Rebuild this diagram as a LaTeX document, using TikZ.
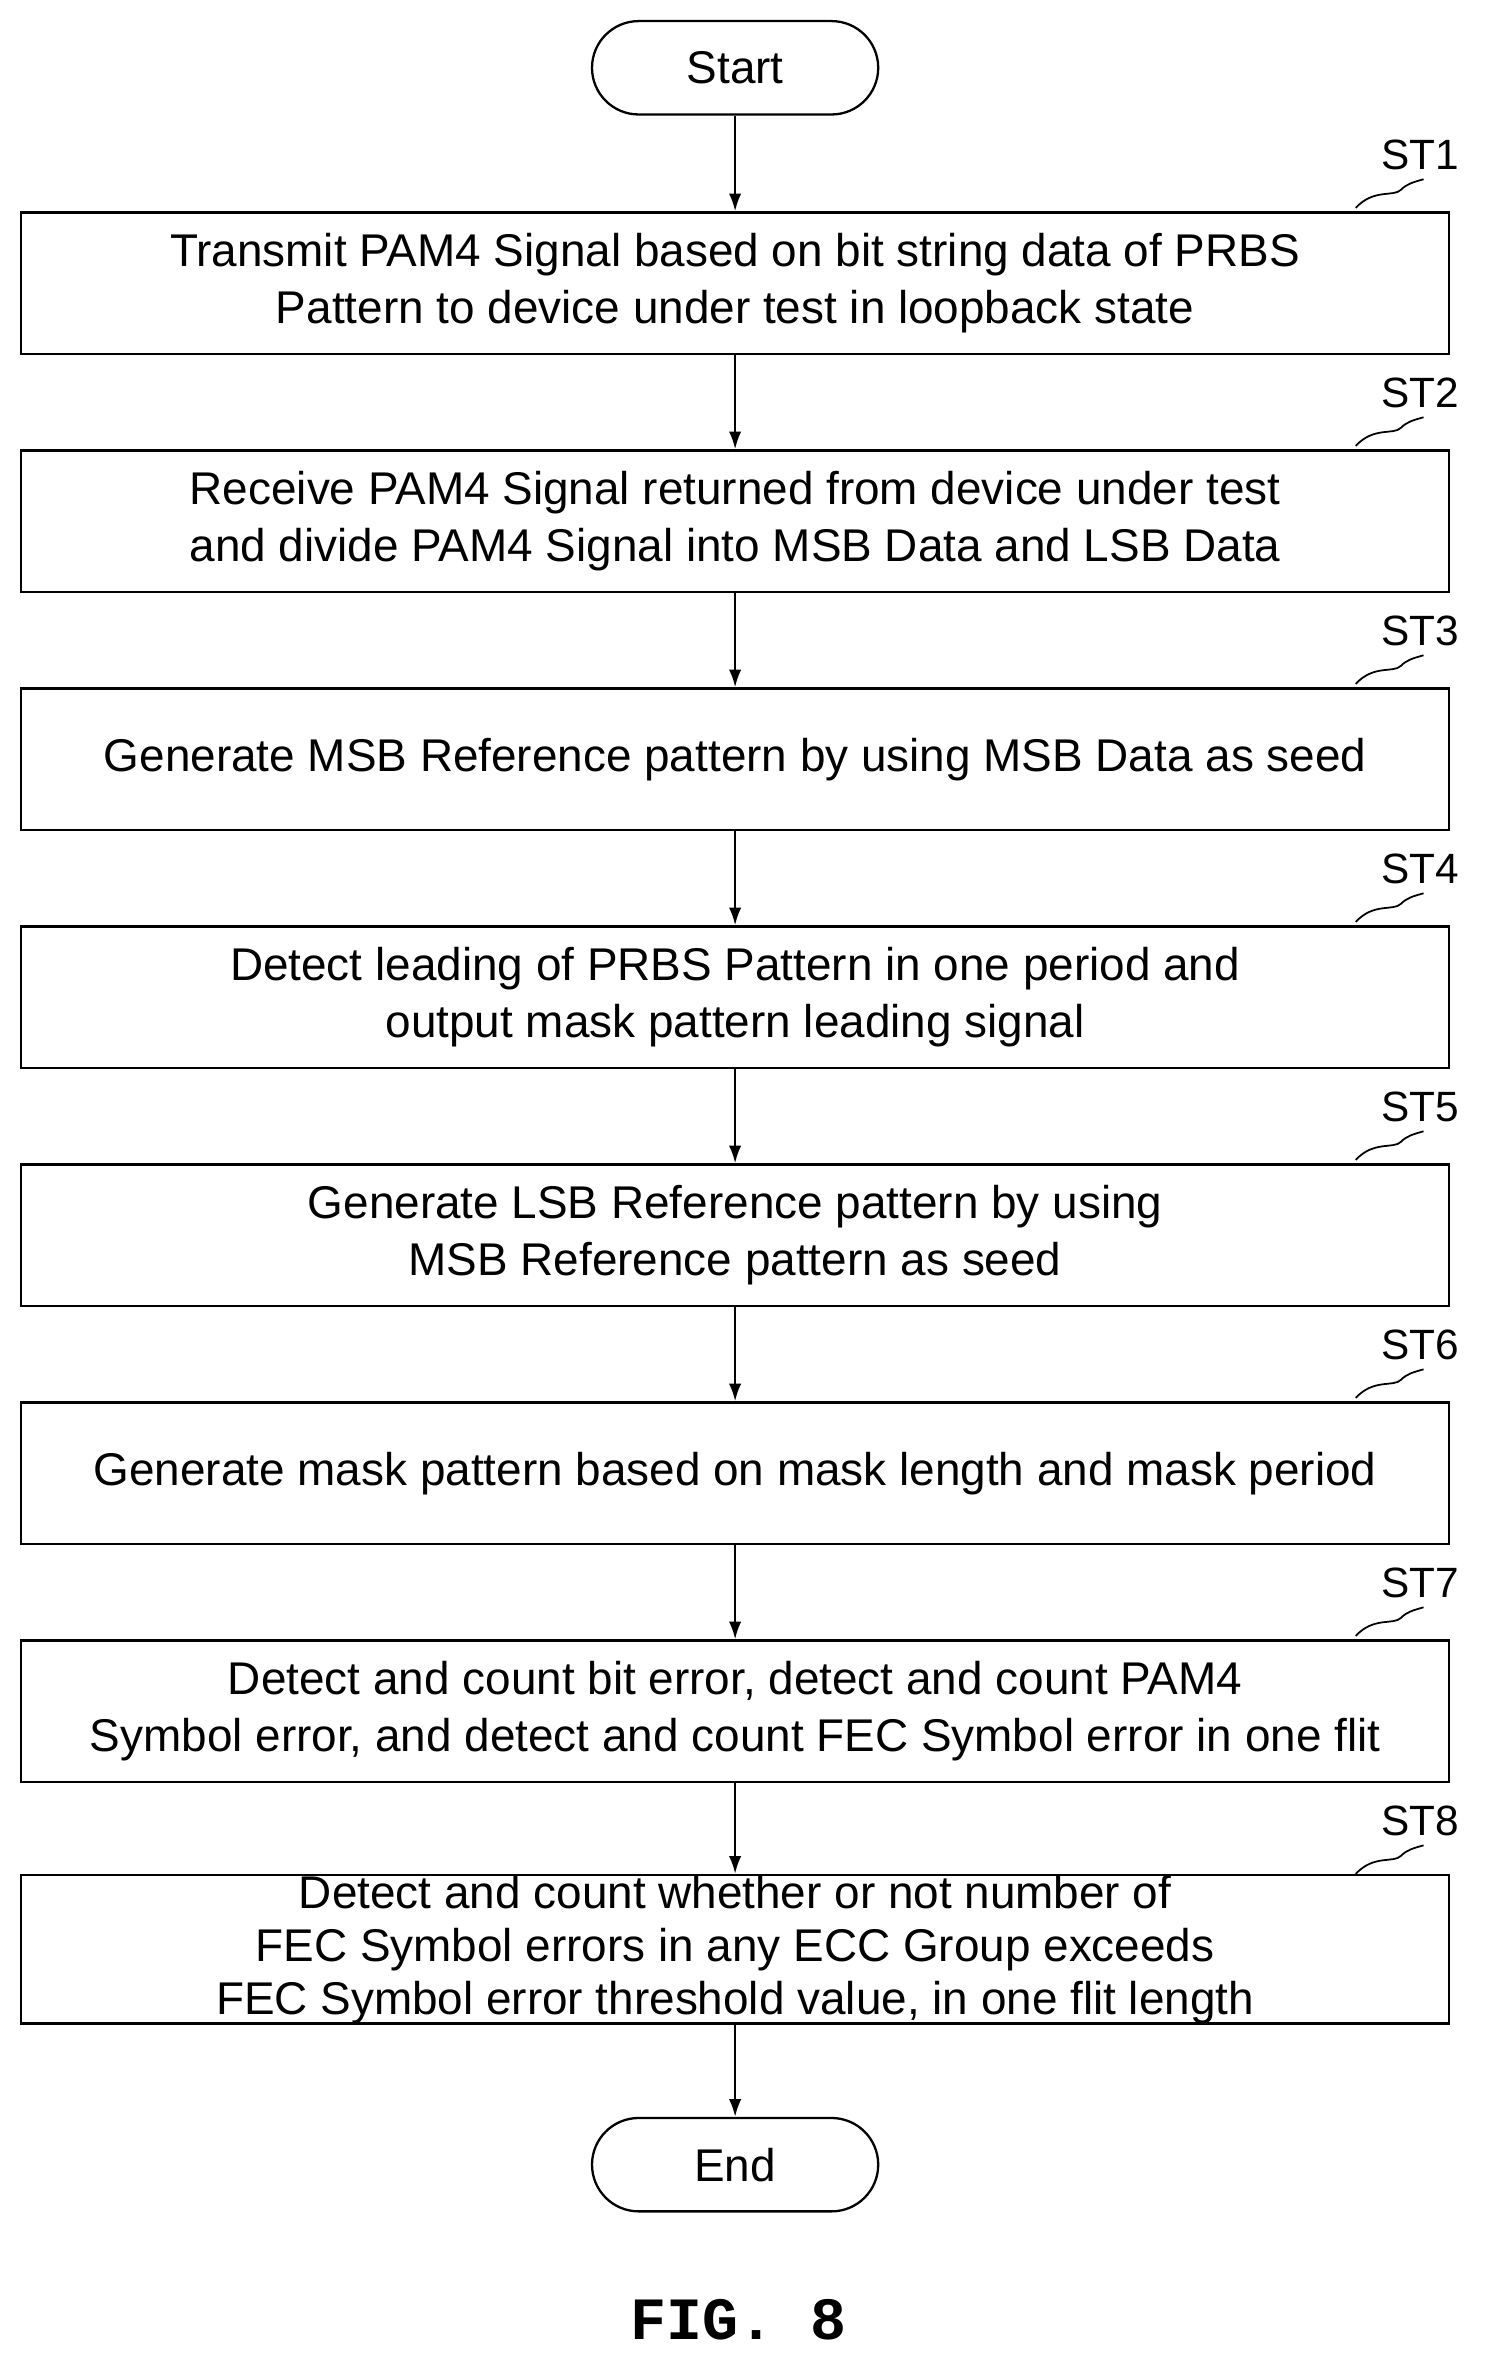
\documentclass[tikz,border=0pt]{standalone}
\usepackage{fontspec}
\setmainfont{Liberation Sans}
\newfontfamily\figfont{Liberation Mono}
\begin{document}
\begin{tikzpicture}[x=0.03cm,y=-0.03cm,
  box/.style={draw,line width=1.3pt,minimum width=948*0.03cm,minimum height=94*0.03cm,align=center,font=\fontsize{26}{32}\selectfont,inner sep=0pt},
  term/.style={draw,line width=1.3pt,rounded corners=31*0.03cm,minimum width=190*0.03cm,minimum height=62*0.03cm,font=\fontsize{26}{32}\selectfont},
  arr/.style={line width=1.3pt,-{Latex[length=10pt,width=7pt]}},
  lab/.style={font=\fontsize{24}{28}\selectfont}]
\useasboundingbox (0,0) rectangle (987,1570);
\usetikzlibrary{arrows.meta}
\node[term] (s) at (488,45) {Start};
\node[box] (b1) at (488,188) {Transmit PAM4 Signal based on bit string data of PRBS\\Pattern to device under test in loopback state};
\node[box] (b2) at (488,346) {Receive PAM4 Signal returned from device under test\\and divide PAM4 Signal into MSB Data and LSB Data};
\node[box] (b3) at (488,504) {Generate MSB Reference pattern by using MSB Data as seed};
\node[box] (b4) at (488,662) {Detect leading of PRBS Pattern in one period and\\output mask pattern leading signal};
\node[box] (b5) at (488,820) {Generate LSB Reference pattern by using\\MSB Reference pattern as seed};
\node[box] (b6) at (488,978) {Generate mask pattern based on mask length and mask period};
\node[box] (b7) at (488,1136) {Detect and count bit error, detect and count PAM4\\Symbol error, and detect and count FEC Symbol error in one flit};
\node[box,font=\fontsize{26}{30}\selectfont] (b8) at (488,1294) {Detect and count whether or not number of\\FEC Symbol errors in any ECC Group exceeds\\FEC Symbol error threshold value, in one flit length};
\node[term] (e) at (488,1437) {End};
\draw[arr] (s) -- (b1);
\foreach \a/\b in {b1/b2,b2/b3,b3/b4,b4/b5,b5/b6,b6/b7,b7/b8,b8/e} \draw[arr] (\a) -- (\b);
\foreach \i/\y in {1/141,2/299,3/457,4/615,5/773,6/931,7/1089,8/1247}{
  \node[lab] (l\i) at (943,\y-38) {ST\i};
  \draw[line width=1pt] (900,\y-3) .. controls (912,\y-16) and (925,\y-10) .. (930,\y-15) .. controls (934,\y-19) and (938,\y-20) .. (945,\y-22);
}
\node[font=\figfont\bfseries\fontsize{34}{40}\selectfont] (fig) at (490,1540) {FIG. 8};
\end{tikzpicture}
\end{document}
